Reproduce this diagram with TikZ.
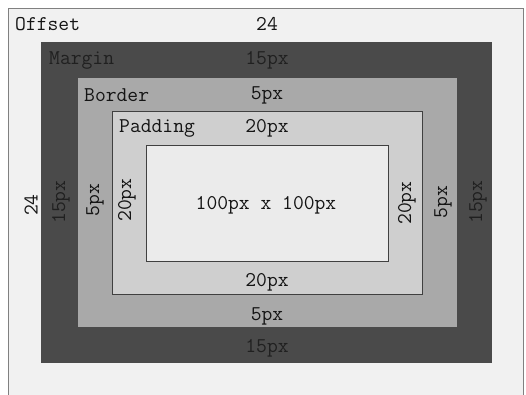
\documentclass[tikz,border=0pt]{standalone}
\usepackage{fontspec}
\setmonofont{Latin Modern Mono}
\begin{document}
\begin{tikzpicture}[x=1pt,y=-1pt]
\definecolor{bgc}{HTML}{F1F1F1}
\definecolor{marc}{HTML}{4A4A4A}
\definecolor{borc}{HTML}{A9A9A9}
\definecolor{padc}{HTML}{CFCFCF}
\definecolor{conc}{HTML}{EBEBEB}
\definecolor{txt}{HTML}{141414}
\definecolor{dtxt}{HTML}{202020}
\tikzset{
  lbl/.style={font=\fontsize{21}{21}\selectfont\ttfamily, text=txt, inner sep=0pt},
  dlbl/.style={lbl, text=dtxt},
  vlbl/.style={lbl, rotate=90},
  dvlbl/.style={dlbl, rotate=90}
}
\useasboundingbox (0,0) rectangle (526,394);
\fill[white] (0,0) rectangle (526,394);
\fill[bgc] (8,8) rectangle (523,400);
\draw[gray, line width=0.8pt] (8,400) -- (8,8) -- (523,8) -- (523,400);
% boxes
\fill[marc] (41,42) rectangle (492,363);
\fill[borc] (78,78) rectangle (457,327);
\filldraw[fill=padc, draw=black!75, line width=0.6pt] (112,111) rectangle (422,294);
\filldraw[fill=conc, draw=black!75, line width=0.6pt] (146,145) rectangle (388,261);
% top labels
\node[lbl, anchor=west] (offset) at (15,24) {Offset};
\node[lbl] (offt) at (267,24) {24};
\node[dlbl, anchor=west] (margin) at (49,60) {Margin};
\node[dlbl] (mart) at (267,60) {15px};
\node[lbl, anchor=west] (border) at (84,95) {Border};
\node[lbl] (bort) at (267,95) {5px};
\node[lbl, anchor=west] (padding) at (119,128) {Padding};
\node[lbl] (padt) at (267,128) {20px};
% content
\node[lbl] (content) at (266,205) {100px x 100px};
% bottom labels
\node[lbl] (padb) at (267,282) {20px};
\node[lbl] (borb) at (267,316) {5px};
\node[dlbl] (marb) at (267,348) {15px};
% left labels
\node[vlbl] (offl) at (31,205) {24};
\node[dvlbl] (marl) at (61,202) {15px};
\node[vlbl] (borl) at (95,200) {5px};
\node[vlbl] (padl) at (127,200) {20px};
% right labels
\node[vlbl] (padr) at (407,203) {20px};
\node[vlbl] (borr) at (443,202) {5px};
\node[dvlbl] (marr) at (478,202) {15px};
\end{tikzpicture}
\end{document}
